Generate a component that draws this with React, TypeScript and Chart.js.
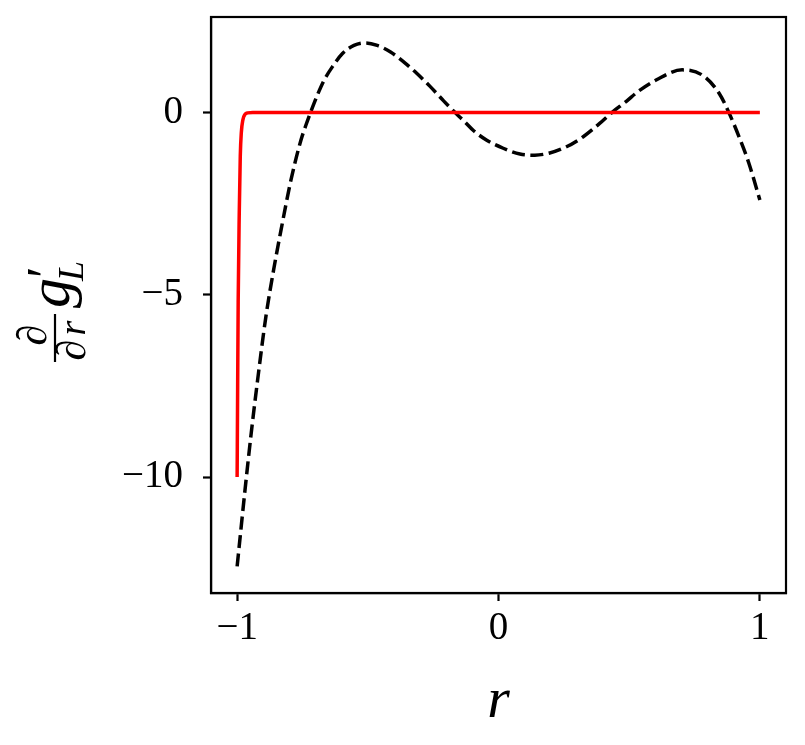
import React, { useEffect, useRef } from "react";
import { Chart, registerables } from "chart.js";
Chart.register(...registerables);

// dashed black curve (r, value)
const dashedR = [-1, -0.972, -0.947, -0.921, -0.89, -0.86, -0.832, -0.794, -0.756, -0.737, -0.715, -0.693, -0.667, -0.635, -0.597, -0.553, -0.509, -0.464, -0.413, -0.363, -0.312, -0.261, -0.21, -0.172, -0.134, -0.095, -0.045, 0.018, 0.082, 0.139, 0.196, 0.26, 0.323, 0.387, 0.437, 0.488, 0.533, 0.603, 0.703, 0.779, 0.844, 0.882, 0.92, 0.958, 1];
const dashedG = [-12.45, -10.5, -8.85, -7.3, -5.6, -4.3, -3.22, -1.85, -0.76, -0.35, 0.08, 0.48, 0.89, 1.26, 1.62, 1.84, 1.91, 1.84, 1.66, 1.39, 1.07, 0.71, 0.32, 0.04, -0.22, -0.5, -0.76, -0.98, -1.14, -1.17, -1.11, -0.94, -0.67, -0.3, 0.02, 0.3, 0.57, 0.89, 1.17, 1.03, 0.53, -0.01, -0.66, -1.39, -2.4];

// solid red curve (r, value)
const solidR = [-1, -0.998, -0.996, -0.992, -0.988, -0.984, -0.978, -0.97, -0.96, -0.94, 1];
const solidG = [-10, -7.5, -5.2, -2.8, -1.2, -0.55, -0.2, -0.05, -0.01, 0, 0];

const xTicks = [-1, 0, 1];
const yTicks = [-10, -5, 0];
const xRange = [-1.1, 1.1];
const yRange = [-13.18, 2.62];

const fmt = (v: number) => (v < 0 ? "\u2212" + Math.abs(v) : String(v));

const framePlugin = {
  id: "frame",
  afterDraw(chart: any) {
    const { ctx, chartArea: a } = chart;
    ctx.save();
    ctx.strokeStyle = "#000";
    ctx.lineWidth = 2.2;
    ctx.strokeRect(a.left, a.top, a.right - a.left, a.bottom - a.top);

    ctx.fillStyle = "#000";
    ctx.textBaseline = "alphabetic";
    // x axis label
    ctx.font = "italic 58px 'Liberation Serif'";
    ctx.textAlign = "center";
    ctx.fillText("r", (a.left + a.right) / 2, a.bottom + 124);

    // y axis label: d/dr g'_L, rotated
    ctx.translate(a.left - 156, (a.top + a.bottom) / 2);
    ctx.rotate(-Math.PI / 2);
    ctx.font = "italic 42px 'Liberation Serif'";
    ctx.textAlign = "center";
    ctx.fillText("\u2202", -30, -9);
    ctx.fillText("\u2202", -45, 30);
    ctx.font = "italic 38px 'Liberation Serif'";
    ctx.fillText("r", -23, 30);
    ctx.beginPath();
    ctx.lineWidth = 2.2;
    ctx.moveTo(-57, 0);
    ctx.lineTo(-9, 0);
    ctx.stroke();
    ctx.textAlign = "left";
    ctx.font = "italic 60px 'Liberation Serif'";
    ctx.fillText("g", -3, 14);
    ctx.font = "italic 52px 'Liberation Serif'";
    ctx.fillText("\u2032", 24, 8);
    ctx.font = "italic 36px 'Liberation Serif'";
    ctx.fillText("L", 24, 28);
    ctx.restore();
  },
};

export default function App() {
  const ref = useRef<HTMLCanvasElement>(null);
  useEffect(() => {
    const canvas = ref.current!;
    const tickFont = { family: "'Liberation Serif'", size: 39 };
    const chart = new Chart(canvas, {
      type: "line",
      data: {
        datasets: [
          {
            data: solidR.map((x, i) => ({ x, y: solidG[i] })),
            borderColor: "#ff0000",
            borderWidth: 3.5,
            pointRadius: 0,
            cubicInterpolationMode: "monotone",
            fill: false,
          },
          {
            data: dashedR.map((x, i) => ({ x, y: dashedG[i] })),
            borderColor: "#000000",
            borderWidth: 3.5,
            borderDash: [13, 5.5],
            pointRadius: 0,
            cubicInterpolationMode: "monotone",
            fill: false,
          },
        ],
      },
      options: {
        animation: false,
        responsive: false,
        events: [],
        layout: { padding: { left: 0, top: 17, right: 19, bottom: 0 } },
        plugins: { legend: { display: false }, tooltip: { enabled: false }, title: { display: false } },
        scales: {
          x: {
            type: "linear",
            min: xRange[0],
            max: xRange[1],
            afterBuildTicks: (s: any) => {
              s.ticks = xTicks.map((v) => ({ value: v }));
            },
            afterFit: (s: any) => {
              s.height = 152;
              s.paddingLeft = 0;
              s.paddingRight = 0;
            },
            ticks: { color: "#000", font: tickFont, padding: 4, maxRotation: 0, callback: (v: any) => fmt(Number(v)) },
            grid: { display: true, drawOnChartArea: false, tickLength: 8, tickWidth: 2.2, tickColor: "#000" },
            border: { display: true, color: "#000", width: 2.2 },
          },
          y: {
            type: "linear",
            min: yRange[0],
            max: yRange[1],
            afterBuildTicks: (s: any) => {
              s.ticks = yTicks.map((v) => ({ value: v }));
            },
            afterFit: (s: any) => {
              s.width = 211;
              s.paddingTop = 0;
              s.paddingBottom = 0;
            },
            ticks: { color: "#000", font: tickFont, padding: 20, callback: (v: any) => fmt(Number(v)) },
            grid: { display: true, drawOnChartArea: false, tickLength: 8, tickWidth: 2.2, tickColor: "#000" },
            border: { display: true, color: "#000", width: 2.2 },
          },
        },
      },
      plugins: [framePlugin],
    } as any);
    return () => chart.destroy();
  }, []);
  return (
    <div style={{ position: "absolute", left: 0, top: 0, width: 805, height: 745, background: "#fff" }}>
      <canvas ref={ref} width={805} height={745} style={{ width: 805, height: 745, display: "block" }} />
    </div>
  );
}
